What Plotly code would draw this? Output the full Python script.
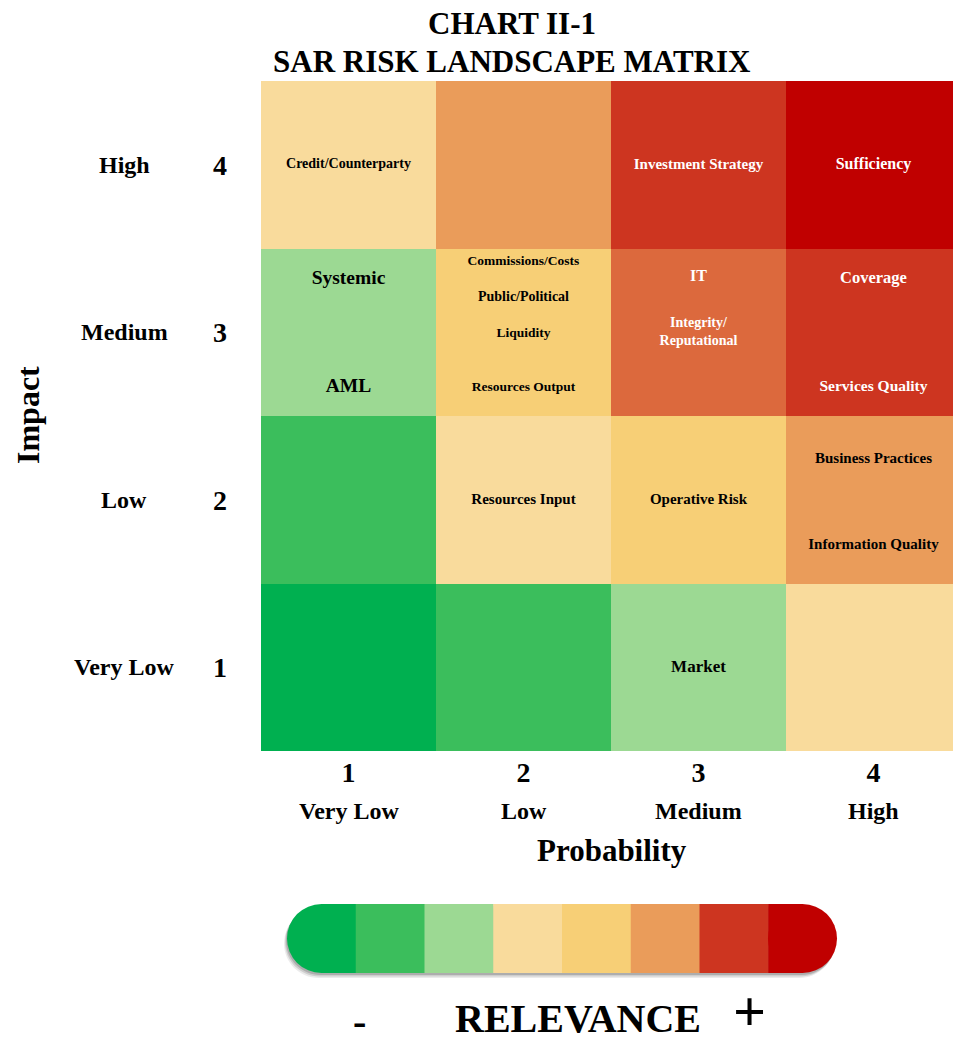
import plotly.graph_objects as go

# ---- data -------------------------------------------------------------
probability_values = [1, 2, 3, 4]
probability_labels = ["Very Low", "Low", "Medium", "High"]
impact_values = [1, 2, 3, 4]
impact_labels = ["Very Low", "Low", "Medium", "High"]

# relevance palette, least to most relevant
relevance_colors = ["#00B050", "#3BBE5C", "#9CD993", "#F9DB9C",
                    "#F7CF76", "#EA9C5A", "#CD3520", "#C00000"]

# relevance level of each cell, rows = impact 1..4, columns = probability 1..4
relevance = [
    [0, 1, 2, 3],
    [1, 3, 4, 5],
    [2, 4, 5.5, 6],
    [3, 5, 6, 7],
]

risk_names = ["Credit/Counterparty", "Investment Strategy", "Sufficiency",
              "Systemic", "AML",
              "Commissions/Costs", "Public/Political", "Liquidity", "Resources Output",
              "IT", "Integrity/<br>Reputational",
              "Coverage", "Services Quality",
              "Resources Input", "Operative Risk",
              "Business Practices", "Information Quality",
              "Market"]
risk_probability = [1, 3, 4, 1, 1, 2, 2, 2, 2, 3, 3, 4, 4, 2, 3, 4, 4, 3]
risk_impact = [4, 4, 4, 3, 3, 3, 3, 3, 3, 3, 3, 3, 3, 2, 2, 2, 2, 1]

# ---- label layout inside the cells (fraction of a cell, font size) ----
label_offset = [0, 0, 0, 0.32, -0.33, 0.42, 0.21, -0.01, -0.33,
                0.33, 0.0, 0.32, -0.33, 0, 0, 0.24, -0.27, 0]
label_size = [14, 15, 16, 19.5, 19.5, 13.5, 14, 13.5, 13.5,
              16, 14, 16.5, 15.5, 15, 15, 15, 15, 17]

# ---- page geometry ----------------------------------------------------
W, H = 953, 1044
L, R, T, B = 261, 0, 81, 293
PW, PH = W - L - R, H - T - B
CELL_W = 175


def px_x(px):
    return (px - L) / PW


def px_y(py):
    return (H - B - py) / PH


FONT = "Liberation Serif"

n_levels = len(relevance_colors) - 1
colorscale = [[i / n_levels, c] for i, c in enumerate(relevance_colors)]

fig = go.Figure()

fig.add_trace(go.Heatmap(
    x=probability_values, y=impact_values, z=relevance,
    zmin=0, zmax=n_levels, colorscale=colorscale,
    showscale=False, hoverinfo="skip",
))

cell_level = {(p, i): relevance[i - 1][p - 1] for p in probability_values for i in impact_values}
text_colors = ["white" if cell_level[(p, i)] >= 5.5 else "black"
               for p, i in zip(risk_probability, risk_impact)]

fig.add_trace(go.Scatter(
    x=risk_probability,
    y=[i + o for i, o in zip(risk_impact, label_offset)],
    text=risk_names, mode="text",
    textfont=dict(family=FONT, size=label_size, color=text_colors, weight="bold"),
    hoverinfo="skip", showlegend=False,
))

annotations = []


def note(text, x, y, xref="paper", yref="paper", size=24, **kw):
    annotations.append(dict(text=text, x=x, y=y, xref=xref, yref=yref,
                            xanchor="center", yanchor="middle", showarrow=False,
                            font=dict(size=size), **kw))


# title
note("CHART II-1", px_x(512), px_y(24), size=31)
note("SAR RISK LANDSCAPE MATRIX", px_x(512), px_y(62), size=31)
# category words under / beside the numeric ticks
for v, lab in zip(probability_values, probability_labels):
    note(lab, v, px_y(811), xref="x")
for v, lab in zip(impact_values, impact_labels):
    note(lab, px_x(124), v, yref="y")
# axis titles
note("Probability", px_x(612), px_y(850), size=31)
note("Impact", px_x(28), px_y(415), size=32, textangle=-90)
# relevance caption
note("-", px_x(359), px_y(1022), size=40)
note("RELEVANCE", px_x(578), px_y(1019), size=40)
note("+", px_x(749), px_y(1011), size=58)

# ---- relevance bar (rounded pill with soft shadow) --------------------
cx, cy = px_x(562), px_y(938.5)
half_w, rad = 275, 34.5
a = half_w - rad
k = 0.5523 * rad


def pill_path(dx, dy):
    return (f"M {-a+dx},{-rad+dy} L {a+dx},{-rad+dy} "
            f"C {a+k+dx},{-rad+dy} {a+rad+dx},{-k+dy} {a+rad+dx},{dy} "
            f"C {a+rad+dx},{k+dy} {a+k+dx},{rad+dy} {a+dx},{rad+dy} "
            f"L {-a+dx},{rad+dy} "
            f"C {-a-k+dx},{rad+dy} {-a-rad+dx},{k+dy} {-a-rad+dx},{dy} "
            f"C {-a-rad+dx},{-k+dy} {-a-k+dx},{-rad+dy} {-a+dx},{-rad+dy} Z")


shapes = []
pix = dict(xref="paper", yref="paper", xanchor=cx, yanchor=cy,
           xsizemode="pixel", ysizemode="pixel", line=dict(width=0))
for dx, dy, op in [(-1, -2, 0.16), (-2, -3.5, 0.12), (-3, -5, 0.08)]:
    shapes.append(dict(type="path", path=pill_path(dx, dy), fillcolor="black", opacity=op, **pix))

seg_w = 2 * half_w / len(relevance_colors)
for i, c in enumerate(relevance_colors):
    x0 = -half_w + i * seg_w
    x1 = x0 + seg_w
    if i == 0:
        shapes.append(dict(type="circle", x0=-half_w, x1=-half_w + 2 * rad, y0=-rad, y1=rad,
                           fillcolor=c, **pix))
        x0 = -a
    if i == len(relevance_colors) - 1:
        shapes.append(dict(type="circle", x0=half_w - 2 * rad, x1=half_w, y0=-rad, y1=rad,
                           fillcolor=c, **pix))
        x1 = a
    shapes.append(dict(type="rect", x0=x0, x1=x1 + (0.5 if i < len(relevance_colors) - 1 else 0),
                       y0=-rad, y1=rad, fillcolor=c, **pix))

fig.update_layout(
    width=W, height=H,
    margin=dict(l=L, r=R, t=T, b=B, pad=0),
    paper_bgcolor="white", plot_bgcolor="white",
    font=dict(family=FONT, color="black", weight="bold"),
    showlegend=False,
    annotations=annotations,
    shapes=shapes,
    xaxis=dict(range=[0.5, 0.5 + PW / CELL_W], tickvals=probability_values,
               ticktext=[str(v) for v in probability_values],
               tickfont=dict(size=28), ticklabelstandoff=2,
               showgrid=False, zeroline=False, showline=False, ticks="", fixedrange=True),
    yaxis=dict(range=[0.5, 4.5], tickvals=impact_values,
               ticktext=[str(v) for v in impact_values],
               tickfont=dict(size=28), ticklabelstandoff=33,
               showgrid=False, zeroline=False, showline=False, ticks="", fixedrange=True),
)

fig.write_html("out.html")
